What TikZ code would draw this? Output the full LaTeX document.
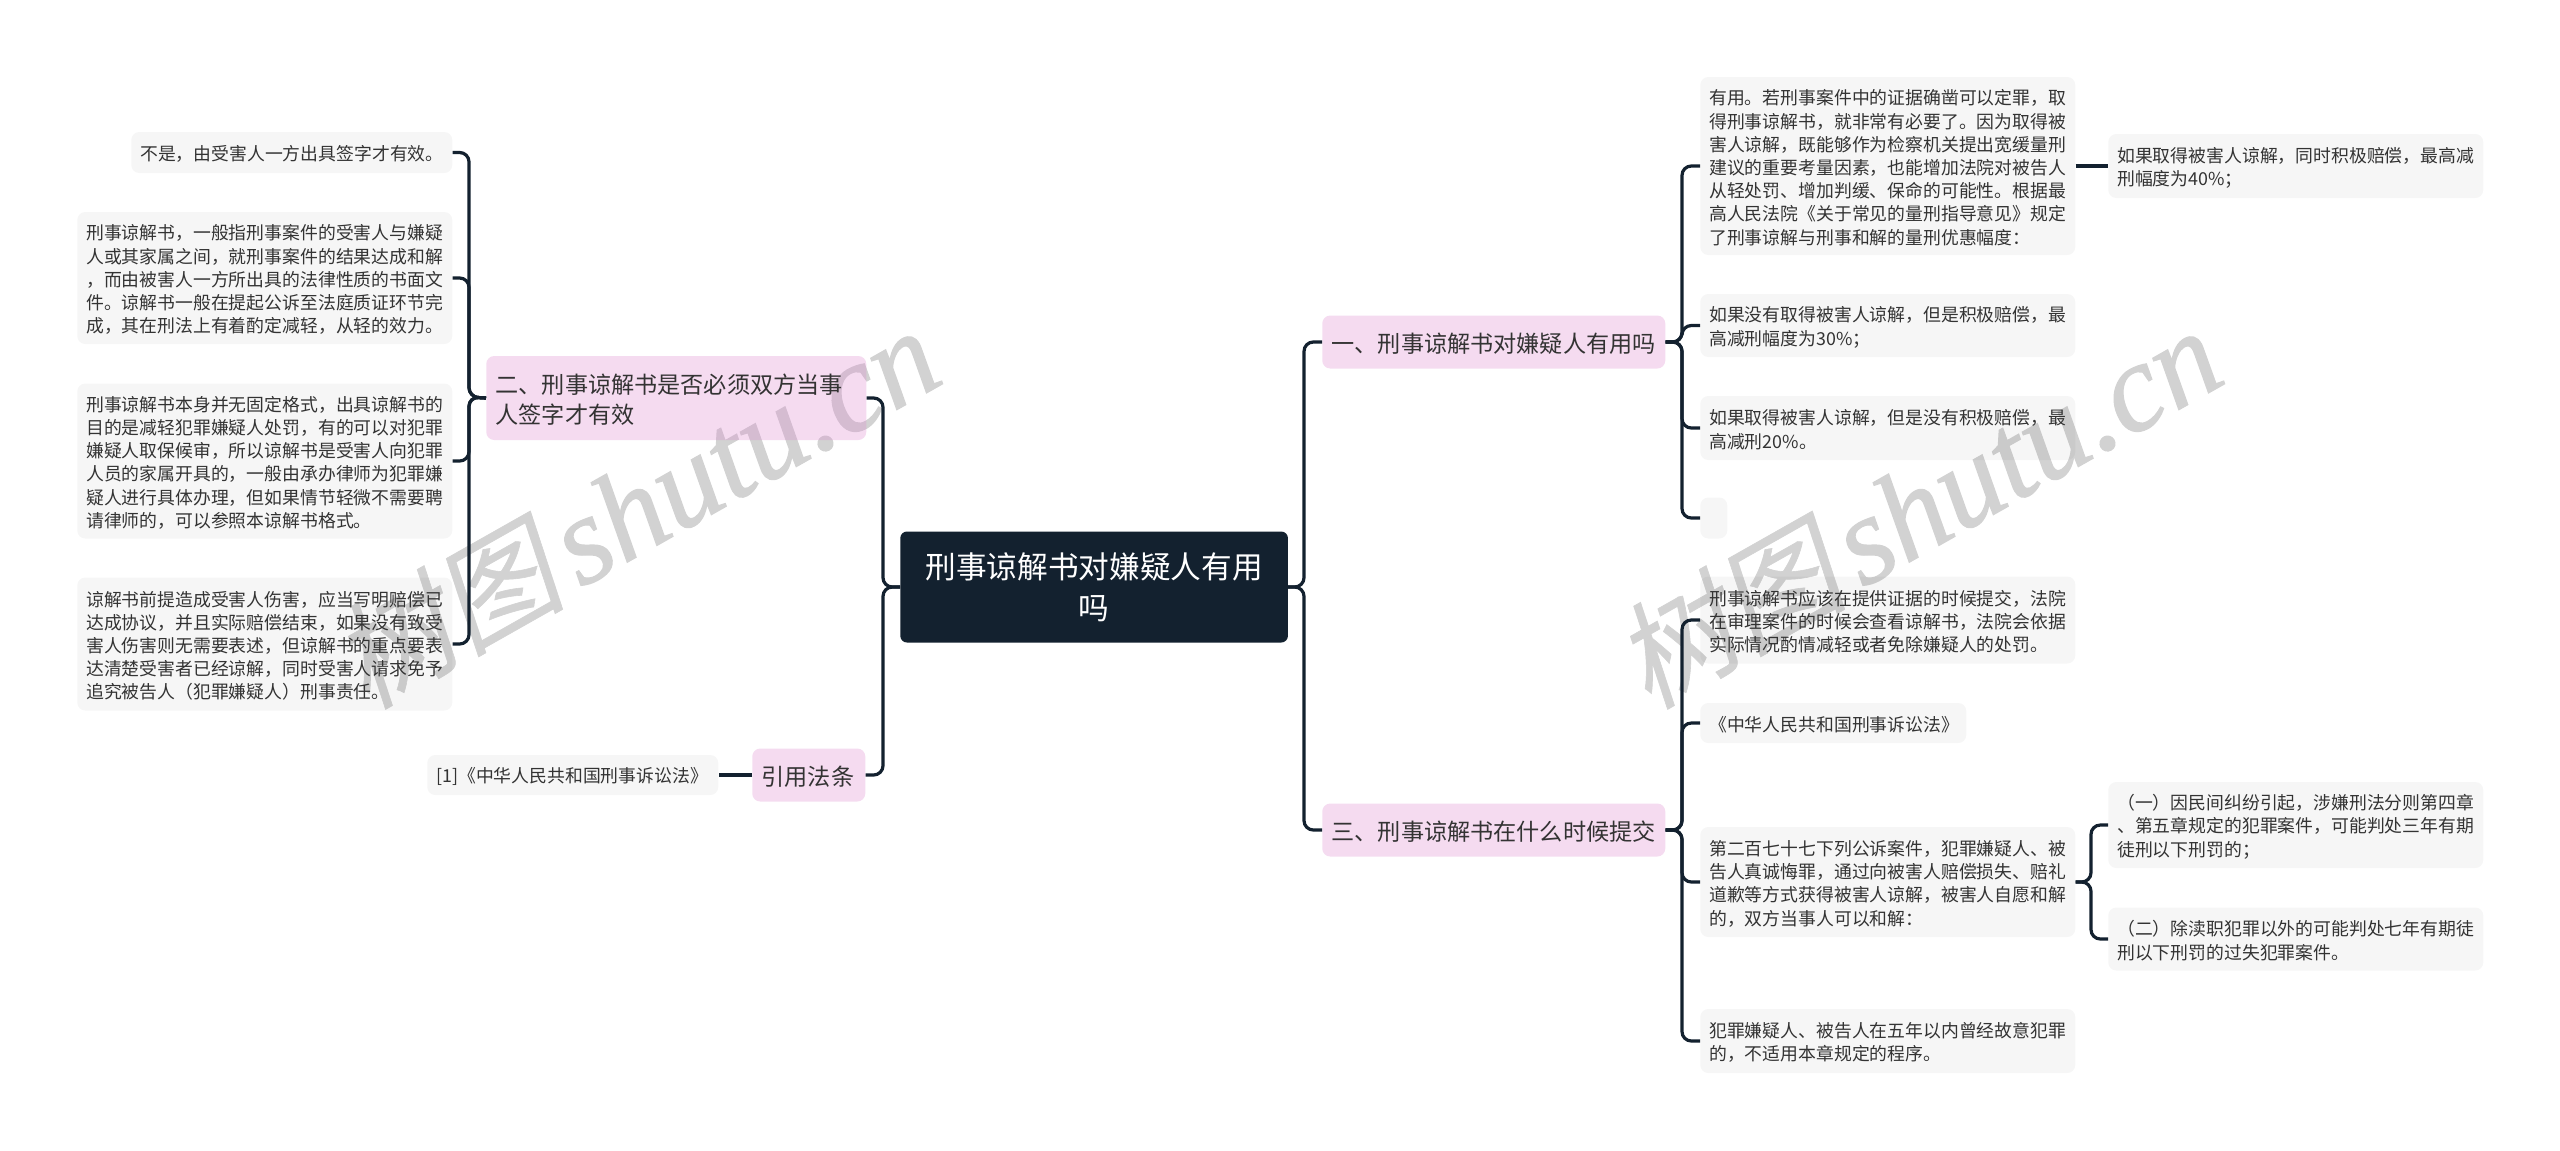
\documentclass[tikz,border=0pt]{standalone}
\usepackage{fontspec}
\setmainfont{Noto Sans CJK SC}
\newfontfamily\markcjk[FakeSlant=0.2,FakeBold=0.5]{Noto Sans CJK SC}
\newfontfamily\marklatin[FakeBold=1]{Liberation Serif Italic}
\definecolor{rootfill}{HTML}{13212F}
\definecolor{branchfill}{HTML}{DE8AD0}
\definecolor{inktext}{HTML}{333333}
\definecolor{markgray}{HTML}{D2D2D2}
\tikzset{
  leaf/.style={rectangle,anchor=west,fill=black,fill opacity=0.035,text opacity=1,rounded corners=6pt,text=inktext,inner xsep=6.75pt,inner ysep=0pt,align=left,font=\fontsize{13.38}{17.4}\selectfont,execute at begin node={\vrule width 0pt height 14pt}},
  branch/.style={rectangle,anchor=west,fill=branchfill,fill opacity=0.3,text opacity=1,rounded corners=6pt,text=inktext,inner xsep=7pt,inner ysep=0pt,align=left,font=\fontsize{17.36}{22.5}\selectfont,execute at begin node={\vrule width 0pt height 16.6pt}},
  link/.style={draw=rootfill,line width=2.4pt,rounded corners=7pt},
  wmark/.style={anchor=base west,rotate=29.5,text=markgray,inner sep=0pt}
}
\begin{document}
\begin{tikzpicture}[x=0.75pt,y=-0.75pt]
\useasboundingbox (0,0) rectangle (2560,1150);
\fill[white] (0,0) rectangle (2560,1150);

\path (366,710) node[wmark] (mark1) {\fontsize{87}{87}\selectfont\markcjk 树图\hspace{11pt}\fontsize{94}{94}\selectfont\marklatin shutu.cn};
\path (1648,710) node[wmark] (mark2) {\fontsize{87}{87}\selectfont\markcjk 树图\hspace{11pt}\fontsize{94}{94}\selectfont\marklatin shutu.cn};

\coordinate (LS) at (883,587);
\coordinate (RS) at (1304,587);
\coordinate (LT) at (469,397);
\coordinate (UP) at (1682,342);
\coordinate (DN) at (1682,830);
\coordinate (SUB) at (2091,882);

\path (900,587) node[rectangle,anchor=west,fill=rootfill,rounded corners=5pt,text=white,text width=275pt,inner xsep=7.875pt,inner ysep=0pt,minimum height=83.25pt,align=center,font=\fontsize{23}{31}\selectfont] (root) {刑事谅解书对嫌疑人有用\\吗};

\path (486,398) node[branch,text width=271pt,minimum height=63pt] (two) {二、刑事谅解书是否必须双方当事\\人签字才有效};
\path (752,775) node[branch,text width=70.75pt,minimum height=39.75pt] (cite) {引用法条};
\path (1322,342) node[branch,text width=243.25pt,minimum height=39.75pt] (one) {一、刑事谅解书对嫌疑人有用吗};
\path (1322,830) node[branch,text width=243.25pt,minimum height=39.75pt] (three) {三、刑事谅解书在什么时候提交};

\path (131,152.5) node[leaf,text width=227.25pt,minimum height=30.75pt] (t1) {不是，由受害人一方出具签字才有效。};
\path (77,278) node[leaf,text width=267.75pt,minimum height=99pt] (t2) {刑事谅解书，一般指刑事案件的受害人与嫌疑\\人或其家属之间，就刑事案件的结果达成和解\\，而由被害人一方所出具的法律性质的书面文\\件。谅解书一般在提起公诉至法庭质证环节完\\成，其在刑法上有着酌定减轻，从轻的效力。};
\path (77,461) node[leaf,text width=267.75pt,minimum height=116.25pt] (t3) {刑事谅解书本身并无固定格式，出具谅解书的\\目的是减轻犯罪嫌疑人处罚，有的可以对犯罪\\嫌疑人取保候审，所以谅解书是受害人向犯罪\\人员的家属开具的，一般由承办律师为犯罪嫌\\疑人进行具体办理，但如果情节轻微不需要聘\\请律师的，可以参照本谅解书格式。};
\path (77,644) node[leaf,text width=267.75pt,minimum height=99.75pt] (t4) {谅解书前提造成受害人伤害，应当写明赔偿已\\达成协议，并且实际赔偿结束，如果没有致受\\害人伤害则无需要表述，但谅解书的重点要表\\达清楚受害者已经谅解，同时受害人请求免予\\追究被告人（犯罪嫌疑人）刑事责任。};
\path (427,775) node[leaf,text width=204.75pt,minimum height=30pt] (c1) {[1]《中华人民共和国刑事诉讼法》};

\path (1700,166) node[leaf,text width=267.75pt,minimum height=133.5pt] (u1) {有用。若刑事案件中的证据确凿可以定罪，取\\得刑事谅解书，就非常有必要了。因为取得被\\害人谅解，既能够作为检察机关提出宽缓量刑\\建议的重要考量因素，也能增加法院对被告人\\从轻处罚、增加判缓、保命的可能性。根据最\\高人民法院《关于常见的量刑指导意见》规定\\了刑事谅解与刑事和解的量刑优惠幅度：};
\path (2108,166) node[leaf,text width=267.75pt,minimum height=48pt] (u1a) {如果取得被害人谅解，同时积极赔偿，最高减\\刑幅度为40\%；};
\path (1700,325.5) node[leaf,text width=267.75pt,minimum height=47.25pt] (u2) {如果没有取得被害人谅解，但是积极赔偿，最\\高减刑幅度为30\%；};
\path (1700,428) node[leaf,text width=267.75pt,minimum height=48pt] (u3) {如果取得被害人谅解，但是没有积极赔偿，最\\高减刑20\%。};
\path (1700,518) node[leaf,text width=6.75pt,minimum height=30.75pt] (u4) {};

\path (1700,620) node[leaf,text width=267.75pt,minimum height=65.25pt] (d1) {刑事谅解书应该在提供证据的时候提交，法院\\在审理案件的时候会查看谅解书，法院会依据\\实际情况酌情减轻或者免除嫌疑人的处罚。};
\path (1700,723) node[leaf,text width=186pt,minimum height=30pt] (d2) {《中华人民共和国刑事诉讼法》};
\path (1700,882) node[leaf,text width=267.75pt,minimum height=82.5pt] (d3) {第二百七十七下列公诉案件，犯罪嫌疑人、被\\告人真诚悔罪，通过向被害人赔偿损失、赔礼\\道歉等方式获得被害人谅解，被害人自愿和解\\的，双方当事人可以和解：};
\path (1700,1041) node[leaf,text width=267.75pt,minimum height=48pt] (d4) {犯罪嫌疑人、被告人在五年以内曾经故意犯罪\\的，不适用本章规定的程序。};
\path (2108,825) node[leaf,text width=267.75pt,minimum height=64.5pt] (d3a) {（一）因民间纠纷引起，涉嫌刑法分则第四章\\、第五章规定的犯罪案件，可能判处三年有期\\徒刑以下刑罚的；};
\path (2108,939) node[leaf,text width=267.75pt,minimum height=47.25pt] (d3b) {（二）除渎职犯罪以外的可能判处七年有期徒\\刑以下刑罚的过失犯罪案件。};

\draw[link] (root.west) -- (LS) |- (two.east);
\draw[link] (root.west) -- (LS) |- (cite.east);
\draw[link] (root.east) -- (RS) |- (one.west);
\draw[link] (root.east) -- (RS) |- (three.west);
\draw[link] (two.west) -- (LT) |- (t1.east);
\draw[link] (two.west) -- (LT) |- (t2.east);
\draw[link] (two.west) -- (LT) |- (t3.east);
\draw[link] (two.west) -- (LT) |- (t4.east);
\draw[link] (cite.west) -- (c1.east);
\draw[link] (one.east) -- (UP) |- (u1.west);
\draw[link] (one.east) -- (UP) |- (u2.west);
\draw[link] (one.east) -- (UP) |- (u3.west);
\draw[link] (one.east) -- (UP) |- (u4.west);
\draw[link] (u1.east) -- (u1a.west);
\draw[link] (three.east) -- (DN) |- (d1.west);
\draw[link] (three.east) -- (DN) |- (d2.west);
\draw[link] (three.east) -- (DN) |- (d3.west);
\draw[link] (three.east) -- (DN) |- (d4.west);
\draw[link] (d3.east) -- (SUB) |- (d3a.west);
\draw[link] (d3.east) -- (SUB) |- (d3b.west);
\end{tikzpicture}
\end{document}
